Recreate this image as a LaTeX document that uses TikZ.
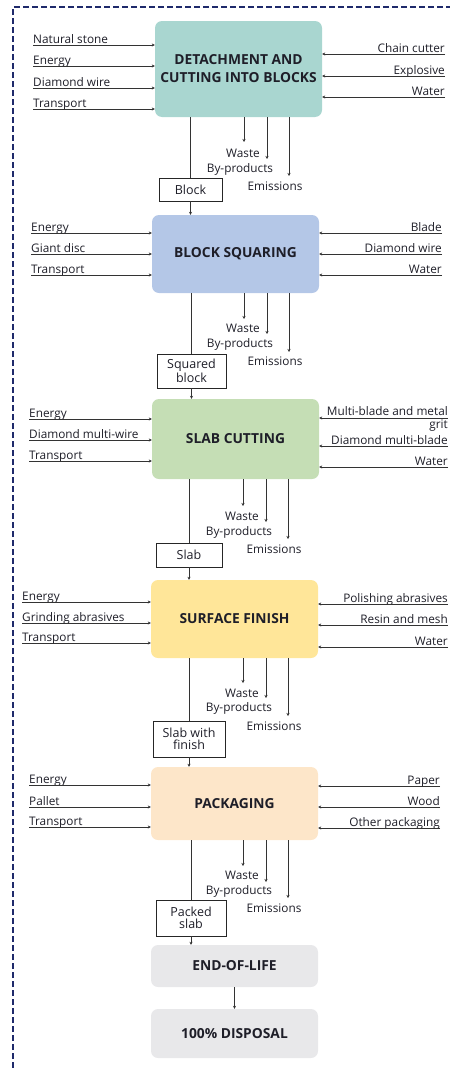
\documentclass[tikz,border=0pt]{standalone}
\usepackage{fontspec}
\setmainfont{Open Sans}
\usetikzlibrary{arrows.meta,positioning}

\definecolor{frameblue}{HTML}{1F2A6B}
\definecolor{detachfill}{HTML}{A9D6D0}
\definecolor{squarefill}{HTML}{B4C7E7}
\definecolor{slabfill}{HTML}{C5DEB5}
\definecolor{finishfill}{HTML}{FFE699}
\definecolor{packfill}{HTML}{FDE6C9}
\definecolor{endfill}{HTML}{E8E8EA}
\definecolor{inktext}{HTML}{1E1E28}

\begin{document}
\begin{tikzpicture}[x=1pt,y=-1pt,
    stage/.style={rounded corners=7pt, minimum width=167pt, inner sep=0pt, align=center,
      text=inktext, font=\bfseries\fontsize{13.8}{18}\selectfont},
    prodbox/.style={draw=black!85, line width=0.8pt, inner sep=0pt, align=center,
      text=inktext, font=\fontsize{12.5}{12}\selectfont},
    inlbl/.style={inner xsep=0pt, inner ysep=1.5pt, text depth=0pt, text=inktext,
      font=\fontsize{11.8}{13}\selectfont},
    outlbl/.style={inner sep=0pt, text=inktext, font=\fontsize{11.8}{12}\selectfont},
    flow/.style={draw=black!80, line width=0.6pt, -{Stealth[length=3pt,width=3pt]}},
    plainline/.style={draw=black!80, line width=0.6pt}]
  \useasboundingbox (0,0) rectangle (450,1068);
  % frame
  \draw[frameblue, line width=1.6pt, dash pattern=on 6pt off 3pt] (13,1068) -- (13,7) -- (450,7);

  %Stage: detachment
  \node[stage, fill=detachfill, minimum height=96pt] (detach) at (238.5,69) {DETACHMENT AND\\CUTTING INTO BLOCKS};
  \node[inlbl, anchor=south west] (dl1) at (33,45) {Natural stone};
  \node[inlbl, anchor=south west] (dl2) at (33,66) {Energy};
  \node[inlbl, anchor=south west] (dl3) at (33,88) {Diamond wire};
  \node[inlbl, anchor=south west] (dl4) at (33,109) {Transport};
  \draw[flow] (dl1.south west) -- (dl1.south west -| detach.west);
  \draw[flow] (dl2.south west) -- (dl2.south west -| detach.west);
  \draw[flow] (dl3.south west) -- (dl3.south west -| detach.west);
  \draw[flow] (dl4.south west) -- (dl4.south west -| detach.west);
  \node[inlbl, anchor=south east] (dr1) at (445,54) {Chain cutter};
  \node[inlbl, anchor=south east] (dr2) at (445,76) {Explosive};
  \node[inlbl, anchor=south east] (dr3) at (445,97) {Water};
  \draw[flow] (dr1.south east) -- (dr1.south east -| detach.east);
  \draw[flow] (dr2.south east) -- (dr2.south east -| detach.east);
  \draw[flow] (dr3.south east) -- (dr3.south east -| detach.east);
  % outputs
  \coordinate (dw) at (244,142);
  \coordinate (db) at (267,159);
  \coordinate (de) at (289,176);
  \node[outlbl] (dwl) at (243,153) {Waste};
  \node[outlbl] (dbl) at (240,169) {By-products};
  \node[outlbl] (del) at (275,186) {Emissions};
  \draw[flow] (dw |- detach.south) -- (dw);
  \draw[flow] (db |- detach.south) -- (db);
  \draw[flow] (de |- detach.south) -- (de);
  % product
  \node[prodbox, minimum width=63pt, minimum height=23pt] (block) at (190.5,189.5) {Block};

  %Stage: block squaring
  \node[stage, fill=squarefill, minimum height=78pt] (squaring) at (235.5,254) {BLOCK SQUARING};
  \draw[plainline] (block.north |- detach.south) -- (block.north);
  \draw[flow] (block.south) -- (block.south |- squaring.north);
  \node[inlbl, anchor=south west] (sl1) at (31,233) {Energy};
  \node[inlbl, anchor=south west] (sl2) at (31,254) {Giant disc};
  \node[inlbl, anchor=south west] (sl3) at (31,275) {Transport};
  \draw[flow] (sl1.south west) -- (sl1.south west -| squaring.west);
  \draw[flow] (sl2.south west) -- (sl2.south west -| squaring.west);
  \draw[flow] (sl3.south west) -- (sl3.south west -| squaring.west);
  \node[inlbl, anchor=south east] (sr1) at (442,233) {Blade};
  \node[inlbl, anchor=south east] (sr2) at (442,254) {Diamond wire};
  \node[inlbl, anchor=south east] (sr3) at (442,275) {Water};
  \draw[flow] (sr1.south east) -- (sr1.south east -| squaring.east);
  \draw[flow] (sr2.south east) -- (sr2.south east -| squaring.east);
  \draw[flow] (sr3.south east) -- (sr3.south east -| squaring.east);
  % outputs
  \coordinate (sw) at (244,319);
  \coordinate (sb) at (267,334);
  \coordinate (se) at (289,352);
  \node[outlbl] (swl) at (243,328) {Waste};
  \node[outlbl] (sbl) at (240,344) {By-products};
  \node[outlbl] (sel) at (275,361) {Emissions};
  \draw[flow] (sw |- squaring.south) -- (sw);
  \draw[flow] (sb |- squaring.south) -- (sb);
  \draw[flow] (se |- squaring.south) -- (se);
  % product
  \node[prodbox, minimum width=69pt, minimum height=34pt] (squared) at (191.5,371) {Squared\\block};

  %Stage: slab cutting
  \node[stage, fill=slabfill, minimum height=80pt] (cutting) at (235.5,439) {SLAB CUTTING};
  \draw[plainline] (squared.north |- squaring.south) -- (squared.north);
  \draw[flow] (squared.south) -- (squared.south |- cutting.north);
  \node[inlbl, anchor=south west] (cl1) at (29,419) {Energy};
  \node[inlbl, anchor=south west] (cl2) at (29,440) {Diamond multi-wire};
  \node[inlbl, anchor=south west] (cl3) at (29,461) {Transport};
  \draw[flow] (cl1.south west) -- (cl1.south west -| cutting.west);
  \draw[flow] (cl2.south west) -- (cl2.south west -| cutting.west);
  \draw[flow] (cl3.south west) -- (cl3.south west -| cutting.west);
  \node[inlbl, anchor=north east, align=right, text depth=] (cr1) at (448,405) {Multi-blade and metal\\grit};
  \coordinate (cr1a) at (448,418);
  \node[inlbl, anchor=south east] (cr2) at (448,446) {Diamond multi-blade};
  \node[inlbl, anchor=south east] (cr3) at (448,467) {Water};
  \draw[flow] (cr1a) -- (cr1a -| cutting.east);
  \draw[flow] (cr2.south east) -- (cr2.south east -| cutting.east);
  \draw[flow] (cr3.south east) -- (cr3.south east -| cutting.east);
  % outputs
  \coordinate (cw) at (243,506);
  \coordinate (cb) at (266,522);
  \coordinate (ce) at (288,539);
  \node[outlbl] (cwl) at (242,516) {Waste};
  \node[outlbl] (cbl) at (239,532) {By-products};
  \node[outlbl] (cel) at (274,549) {Emissions};
  \draw[flow] (cw |- cutting.south) -- (cw);
  \draw[flow] (cb |- cutting.south) -- (cb);
  \draw[flow] (ce |- cutting.south) -- (ce);
  % product
  \node[prodbox, minimum width=66pt, minimum height=24pt] (slab) at (189,555) {Slab};

  %Stage: surface finish
  \node[stage, fill=finishfill, minimum height=78pt] (finish) at (234.5,619) {SURFACE FINISH};
  \draw[plainline] (slab.north |- cutting.south) -- (slab.north);
  \draw[flow] (slab.south) -- (slab.south |- finish.north);
  \node[inlbl, anchor=south west] (fl1) at (22,602) {Energy};
  \node[inlbl, anchor=south west] (fl2) at (22,623) {Grinding abrasives};
  \node[inlbl, anchor=south west] (fl3) at (22,643) {Transport};
  \draw[flow] (fl1.south west) -- (fl1.south west -| finish.west);
  \draw[flow] (fl2.south west) -- (fl2.south west -| finish.west);
  \draw[flow] (fl3.south west) -- (fl3.south west -| finish.west);
  \node[inlbl, anchor=south east] (fr1) at (448,604) {Polishing abrasives};
  \node[inlbl, anchor=south east] (fr2) at (448,625) {Resin and mesh};
  \node[inlbl, anchor=south east] (fr3) at (448,647) {Water};
  \draw[flow] (fr1.south east) -- (fr1.south east -| finish.east);
  \draw[flow] (fr2.south east) -- (fr2.south east -| finish.east);
  \draw[flow] (fr3.south east) -- (fr3.south east -| finish.east);
  % outputs
  \coordinate (fw) at (243,683);
  \coordinate (fb) at (266,698);
  \coordinate (fe) at (288,716);
  \node[outlbl] (fwl) at (242,693) {Waste};
  \node[outlbl] (fbl) at (239,708) {By-products};
  \node[outlbl] (fel) at (274,726) {Emissions};
  \draw[flow] (fw |- finish.south) -- (fw);
  \draw[flow] (fb |- finish.south) -- (fb);
  \draw[flow] (fe |- finish.south) -- (fe);
  % product
  \node[prodbox, minimum width=72pt, minimum height=36pt] (finished) at (189,739) {Slab with\\finish};

  %Stage: packaging
  \node[stage, fill=packfill, minimum height=73pt] (packing) at (234.5,803.5) {PACKAGING};
  \draw[plainline] (finished.north |- finish.south) -- (finished.north);
  \draw[flow] (finished.south) -- (finished.south |- packing.north);
  \node[inlbl, anchor=south west] (pl1) at (29,785) {Energy};
  \node[inlbl, anchor=south west] (pl2) at (29,807) {Pallet};
  \node[inlbl, anchor=south west] (pl3) at (29,827) {Transport};
  \draw[flow] (pl1.south west) -- (pl1.south west -| packing.west);
  \draw[flow] (pl2.south west) -- (pl2.south west -| packing.west);
  \draw[flow] (pl3.south west) -- (pl3.south west -| packing.west);
  \node[inlbl, anchor=south east] (pr1) at (440,786) {Paper};
  \node[inlbl, anchor=south east] (pr2) at (440,807) {Wood};
  \node[inlbl, anchor=south east] (pr3) at (440,828) {Other packaging};
  \draw[flow] (pr1.south east) -- (pr1.south east -| packing.east);
  \draw[flow] (pr2.south east) -- (pr2.south east -| packing.east);
  \draw[flow] (pr3.south east) -- (pr3.south east -| packing.east);
  % outputs
  \coordinate (pw) at (243,866);
  \coordinate (pb) at (266,882);
  \coordinate (pe) at (288,898);
  \node[outlbl] (pwl) at (242,875) {Waste};
  \node[outlbl] (pbl) at (239,891) {By-products};
  \node[outlbl] (pel) at (274,908) {Emissions};
  \draw[flow] (pw |- packing.south) -- (pw);
  \draw[flow] (pb |- packing.south) -- (pb);
  \draw[flow] (pe |- packing.south) -- (pe);
  % product
  \node[prodbox, minimum width=70pt, minimum height=36pt] (packed) at (191,918) {Packed\\slab};

  %Stage: end of life
  \node[stage, fill=endfill, minimum height=42pt] (eol) at (234.5,966) {END-OF-LIFE};
  \node[stage, fill=endfill, minimum height=49pt] (disposal) at (234.5,1033.5) {100\% DISPOSAL};
  \draw[plainline] (packed.north |- packing.south) -- (packed.north);
  \draw[flow] (packed.south) -- (packed.south |- eol.north);
  \draw[flow] (eol.south) -- (disposal.north);
\end{tikzpicture}
\end{document}
